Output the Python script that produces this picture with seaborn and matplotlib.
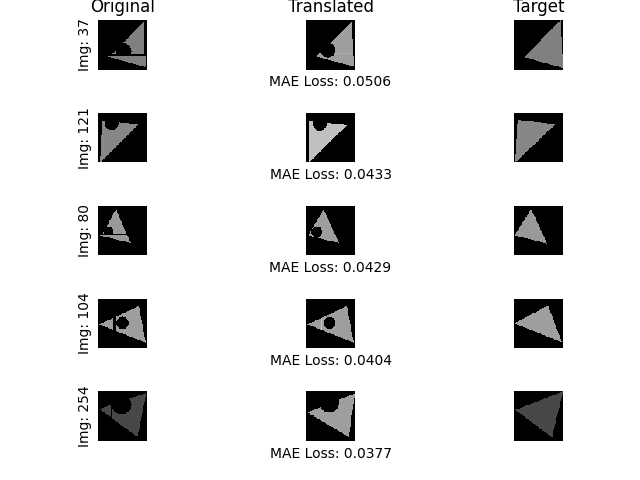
import numpy as np
import matplotlib
matplotlib.use("Agg")
import matplotlib.pyplot as plt
from matplotlib.path import Path
import seaborn as sns

# ---------------- data ----------------
col_titles = ["Original", "Translated", "Target"]
img_ids = [37, 121, 80, 104, 254]
mae_losses = [0.0506, 0.0433, 0.0429, 0.0404, 0.0377]

# Each image = list of paint layers in order:
#   ("poly", [(x, y), ...], gray)  or  ("circle", (cx, cy, r), gray)
# coordinates normalised to the image (x right, y down)
original_shapes = [
    [("poly", [(0.93, 0.03), (0.93, 0.68), (0.30, 0.68)], 0.50),
     ("circle", (0.52, 0.63, 0.16), 0.0),
     ("poly", [(0.20, 0.74), (0.97, 0.73), (0.96, 0.95)], 0.50)],
    [("poly", [(0.08, 0.16), (0.83, 0.23), (0.05, 1.00)], 0.53),
     ("circle", (0.28, 0.21, 0.14), 0.0)],
    [("poly", [(0.37, 0.07), (0.10, 0.56), (0.58, 0.56)], 0.60),
     ("circle", (0.22, 0.52, 0.10), 0.0),
     ("poly", [(0.04, 0.60), (0.60, 0.60), (0.67, 0.75)], 0.60)],
    [("poly", [(0.03, 0.52), (0.83, 0.15), (0.97, 0.89)], 0.62),
     ("poly", [(0.32, 0.0), (0.36, 0.0), (0.36, 1.0), (0.32, 1.0)], 0.0),
     ("circle", (0.50, 0.49, 0.125), 0.0)],
    [("poly", [(0.03, 0.35), (0.98, 0.03), (0.80, 0.92)], 0.28),
     ("poly", [(0.26, 0.0), (0.29, 0.0), (0.29, 1.0), (0.26, 1.0)], 0.0),
     ("circle", (0.48, 0.26, 0.20), 0.0)],
]
translated_shapes = [
    [("poly", [(0.93, 0.03), (0.97, 0.94), (0.21, 0.74)], 0.62),
     ("circle", (0.45, 0.61, 0.15), 0.0),
     ("poly", [(0.58, 0.66), (0.95, 0.66), (0.95, 0.69), (0.58, 0.69)], 0.68)],
    [("poly", [(0.07, 0.16), (0.83, 0.25), (0.07, 1.00)], 0.75),
     ("circle", (0.28, 0.22, 0.14), 0.0)],
    [("poly", [(0.36, 0.07), (0.05, 0.60), (0.67, 0.75)], 0.62),
     ("circle", (0.22, 0.53, 0.11), 0.0)],
    [("poly", [(0.03, 0.52), (0.83, 0.15), (0.97, 0.89)], 0.62),
     ("poly", [(0.30, 0.40), (0.33, 0.39), (0.33, 0.64), (0.30, 0.63)], 0.78),
     ("circle", (0.48, 0.49, 0.12), 0.0)],
    [("poly", [(0.03, 0.42), (0.99, 0.04), (0.87, 0.92)], 0.62),
     ("circle", (0.47, 0.22, 0.20), 0.0)],
]
target_shapes = [
    [("poly", [(0.945, 0.0), (0.21, 0.75), (0.99, 0.97)], 0.50)],
    [("poly", [(0.075, 0.14), (0.84, 0.23), (0.03, 1.00)], 0.53)],
    [("poly", [(0.35, 0.07), (0.01, 0.60), (0.67, 0.76)], 0.60)],
    [("poly", [(0.01, 0.50), (0.69, 0.14), (0.97, 0.88)], 0.62)],
    [("poly", [(0.03, 0.37), (0.99, 0.00), (0.77, 0.93)], 0.28)],
]

GRID = 64


def render(layers, n=GRID):
    c = (np.arange(n) + 0.5) / n
    xx, yy = np.meshgrid(c, c)
    pts = np.column_stack([xx.ravel(), yy.ravel()])
    img = np.zeros(n * n)
    for kind, geom, val in layers:
        if kind == "poly":
            mask = Path(geom).contains_points(pts)
        else:
            cx, cy, r = geom
            mask = (pts[:, 0] - cx) ** 2 + (pts[:, 1] - cy) ** 2 <= r ** 2
        img[mask] = val
    return img.reshape(n, n)


fig = plt.figure(figsize=(6.4, 4.8), dpi=100)
axes = fig.subplots(5, 3)
fig.subplots_adjust(left=0.0753, right=0.9577, top=0.9583, bottom=0.08125,
                    wspace=0.4, hspace=0.876)

columns = [original_shapes, translated_shapes, target_shapes]
for r in range(5):
    for c in range(3):
        ax = axes[r, c]
        img = render(columns[c][r])
        sns.heatmap(img, ax=ax, cmap="gray", vmin=0, vmax=1, cbar=False,
                    square=True, xticklabels=False, yticklabels=False)
        if r == 0:
            ax.set_title(col_titles[c], fontsize=12)
        if c == 0:
            ax.set_ylabel(f"Img: {img_ids[r]}", fontsize=10)
        if c == 1:
            ax.set_xlabel(f"MAE Loss: {mae_losses[r]:.4f}", fontsize=10)

fig.savefig("out.png", dpi=100)
